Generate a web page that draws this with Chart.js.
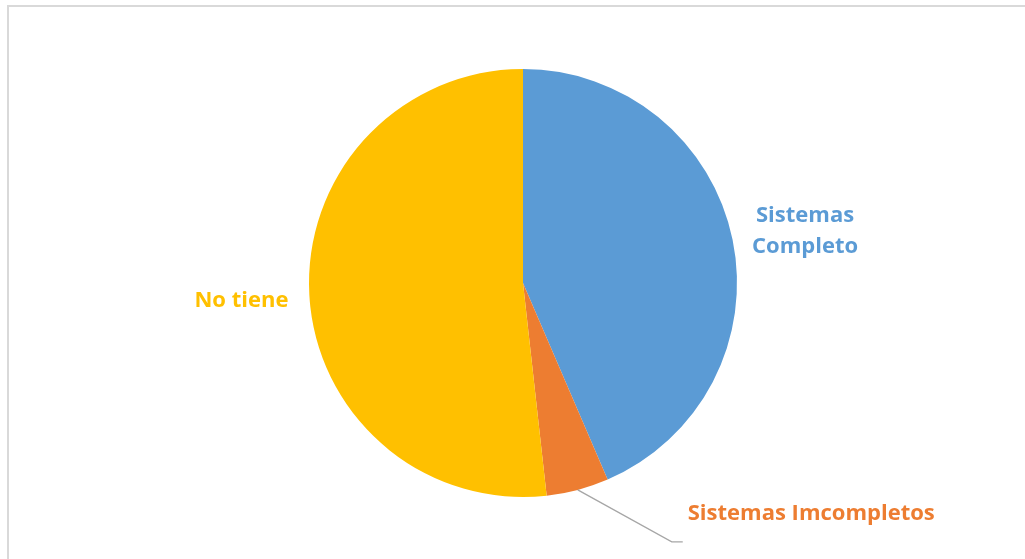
<!DOCTYPE html>
<html>
<head>
<meta charset="utf-8">
<script src="https://cdn.jsdelivr.net/npm/chart.js@4.4.1/dist/chart.umd.min.js"></script>
<style>
  html, body { margin:0; padding:0; background:#fff; }
  #wrap { position:relative; width:1025px; height:559px; overflow:hidden; }
  #frame { position:absolute; left:7px; top:5px; width:1040px; height:600px; border:2px solid #d9d9d9; box-sizing:border-box; }
  canvas { position:absolute; left:0; top:0; }
</style>
</head>
<body>
<div id="wrap">
  <div id="frame"></div>
  <canvas id="c" width="1025" height="559"></canvas>
</div>
<script>
const categories = ["Sistemas Completo", "Sistemas Imcompletos", "No tiene"];
const values = [37, 4, 44];
const colors = ["#5B9BD5", "#ED7D31", "#FFC000"];
const labelLines = [["Sistemas", "Completo"], ["Sistemas Imcompletos"], ["No tiene"]];

const labelPlugin = {
  id: 'sliceLabels',
  afterDatasetsDraw(chart) {
    const ctx = chart.ctx;
    const meta = chart.getDatasetMeta(0);
    ctx.save();
    ctx.font = 'bold 22px "Open Sans", Lato, sans-serif';
    ctx.textAlign = 'center';
    ctx.textBaseline = 'middle';
    meta.data.forEach((arc, i) => {
      const mid = (arc.startAngle + arc.endAngle) / 2;
      const r = arc.outerRadius;
      const cx = arc.x, cy = arc.y;
      const lines = labelLines[i];
      ctx.fillStyle = colors[i];
      if (i === 1) {
        const sx = cx + Math.cos(mid) * r, sy = cy + Math.sin(mid) * r;
        const ex = sx + 94, ey = sy + 52;
        ctx.strokeStyle = '#a6a6a6';
        ctx.lineWidth = 1.3;
        ctx.beginPath();
        ctx.moveTo(sx, sy);
        ctx.lineTo(ex, ey);
        ctx.lineTo(ex + 11, ey);
        ctx.stroke();
        ctx.textAlign = 'left';
        ctx.fillText(lines[0], ex + 16, ey - 28);
        ctx.textAlign = 'center';
      } else {
        const d = r + (i === 0 ? 74 : 68);
        const lx = cx + Math.cos(mid) * d;
        const ly = cy + Math.sin(mid) * d + (i === 0 ? 6 : 2);
        const lh = 31;
        lines.forEach((t, k) => {
          ctx.fillText(t, lx, ly + (k - (lines.length - 1) / 2) * lh);
        });
      }
    });
    ctx.restore();
  }
};

new Chart(document.getElementById('c'), {
  type: 'pie',
  data: {
    labels: categories,
    datasets: [{
      data: values,
      backgroundColor: colors,
      borderWidth: 0
    }]
  },
  options: {
    responsive: false,
    animation: false,
    layout: { padding: { left: 309, right: 288, top: 69, bottom: 62 } },
    plugins: { legend: { display: false }, tooltip: { enabled: false } }
  },
  plugins: [labelPlugin]
});
</script>
</body>
</html>
